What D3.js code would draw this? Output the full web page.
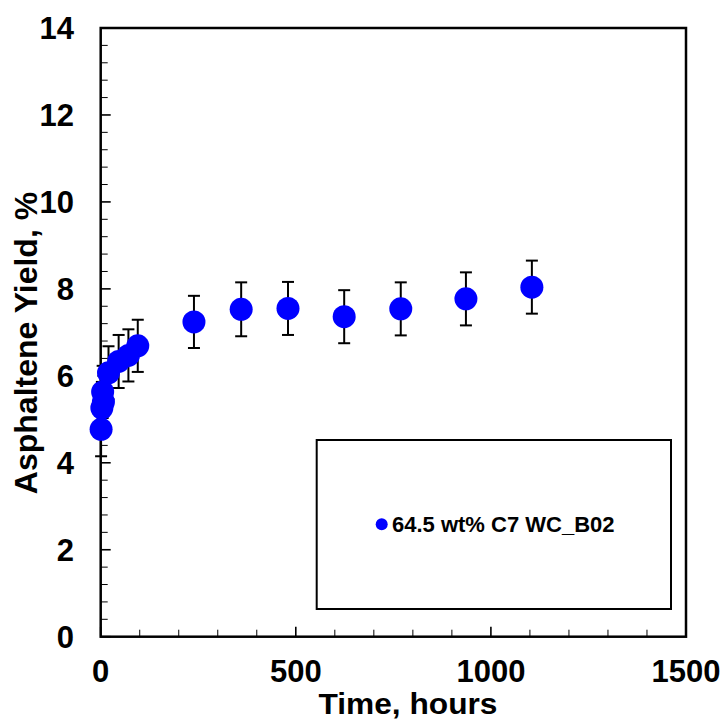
<!DOCTYPE html>
<html>
<head>
<meta charset="utf-8">
<script src="https://cdn.jsdelivr.net/npm/d3@7"></script>
<style>
html,body{margin:0;padding:0;background:#fff;}
svg{display:block;}
text{font-family:"Liberation Sans",Arial,Helvetica,sans-serif;font-weight:bold;fill:#000;}
</style>
</head>
<body>
<svg id="chart" width="725" height="721"></svg>
<script>
const seriesName = "64.5 wt% C7 WC_B02";
const times  = [1, 3, 7, 5, 20, 46, 71, 95, 239, 360, 480, 624, 769, 936, 1105];
const yields = [4.77, 5.26, 5.40, 5.63, 6.07, 6.33, 6.47, 6.69, 7.24, 7.53, 7.55, 7.36, 7.54, 7.77, 8.04];
const errors = [0.62, 0.6, 0.6, 0.6, 0.61, 0.61, 0.6, 0.6, 0.6, 0.62, 0.61, 0.61, 0.61, 0.61, 0.61];
const xTickValues = [0, 500, 1000, 1500];
const yTickValues = [0, 2, 4, 6, 8, 10, 12, 14];
const xTitle = "Time, hours";
const yTitle = "Asphaltene Yield, %";

const svg = d3.select("#chart");
const L = 100.7, R = 686, T = 28, B = 636.7;
const x = d3.scaleLinear().domain([0, 1500]).range([L, R]);
const y = d3.scaleLinear().domain([0, 14]).range([B, T]);

// minor ticks
const xMinor = d3.range(0, 1501, 100);
const yMinor = d3.range(0, 14.001, 0.4);
const isMajorY = d => Math.abs(d/2 - Math.round(d/2)) < 1e-6;
svg.append("g").selectAll("line").data(xMinor).join("line")
  .attr("x1", d => x(d)).attr("x2", d => x(d))
  .attr("y1", B).attr("y2", d => B - (d % 500 === 0 ? 10 : 7))
  .attr("stroke", "#000").attr("stroke-width", d => d % 500 === 0 ? 1.6 : 1);
svg.append("g").selectAll("line").data(yMinor).join("line")
  .attr("y1", d => y(d)).attr("y2", d => y(d))
  .attr("x1", L).attr("x2", d => L + (isMajorY(d) ? 10 : 7))
  .attr("stroke", "#000").attr("stroke-width", d => isMajorY(d) ? 1.6 : 1);

// frame
svg.append("rect").attr("x", L).attr("y", T).attr("width", R - L).attr("height", B - T)
  .attr("fill", "none").attr("stroke", "#000").attr("stroke-width", 2.5);

// tick labels
svg.append("g").selectAll("text").data(xTickValues).join("text")
  .attr("x", d => x(d)).attr("y", 682).attr("text-anchor", "middle")
  .attr("font-size", 31).text(d => d);
svg.append("g").selectAll("text").data(yTickValues).join("text")
  .attr("x", 74).attr("y", d => y(d) + 11).attr("text-anchor", "end")
  .attr("font-size", 31).text(d => d);

// titles
svg.append("text").attr("x", 408).attr("y", 714).attr("text-anchor", "middle")
  .attr("font-size", 29).attr("textLength", 179).attr("lengthAdjust", "spacingAndGlyphs")
  .text(xTitle);
svg.append("text").attr("transform", "translate(37,343) rotate(-90)")
  .attr("text-anchor", "middle").attr("font-size", 32).text(yTitle);

// data
const data = times.map((t, i) => ({t, v: yields[i], e: errors[i]}));
const eb = svg.append("g").attr("stroke", "#000").attr("stroke-width", 2);
data.forEach(d => {
  const cx = x(d.t);
  eb.append("line").attr("x1", cx).attr("x2", cx).attr("y1", y(d.v + d.e)).attr("y2", y(d.v - d.e));
  eb.append("line").attr("x1", cx - 6).attr("x2", cx + 6).attr("y1", y(d.v + d.e)).attr("y2", y(d.v + d.e));
  eb.append("line").attr("x1", cx - 6).attr("x2", cx + 6).attr("y1", y(d.v - d.e)).attr("y2", y(d.v - d.e));
});
svg.append("g").selectAll("circle").data(data).join("circle")
  .attr("cx", d => x(d.t)).attr("cy", d => y(d.v)).attr("r", 11.5)
  .attr("fill", "#0000ff");

// legend
svg.append("rect").attr("x", 316.7).attr("y", 440).attr("width", 354.3).attr("height", 169)
  .attr("fill", "#fff").attr("stroke", "#000").attr("stroke-width", 2);
svg.append("circle").attr("cx", 381.7).attr("cy", 524.3).attr("r", 6).attr("fill", "#0000ff");
svg.append("text").attr("x", 392).attr("y", 532).attr("font-size", 22).text(seriesName);
</script>
</body>
</html>
